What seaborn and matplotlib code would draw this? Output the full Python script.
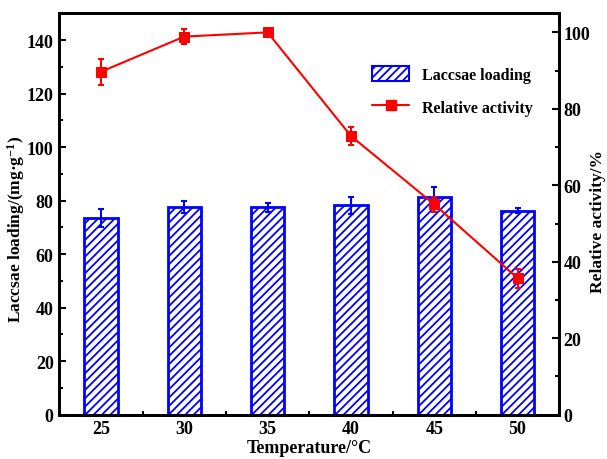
import matplotlib
matplotlib.use("Agg")
import matplotlib.pyplot as plt
import seaborn as sns
import pandas as pd
from matplotlib.patches import Patch
from matplotlib.lines import Line2D
from matplotlib.ticker import MultipleLocator

# data
temperature = [25, 30, 35, 40, 45, 50]
loading = [73.6, 77.6, 77.5, 78.3, 81.2, 76.3]
loading_err = [3.4, 2.1, 1.7, 3.2, 3.8, 0.8]
activity = [89.7, 98.9, 100.0, 72.9, 55.0, 35.7]
activity_err = [3.4, 2.0, 0.6, 2.4, 2.0, 2.5]

sns.set_style("ticks", {"axes.edgecolor": "black", "text.color": "black",
                        "axes.labelcolor": "black", "xtick.color": "black",
                        "ytick.color": "black"})
plt.rcParams["font.family"] = ["Liberation Serif", "DejaVu Serif"]
plt.rcParams["font.weight"] = "bold"
plt.rcParams["mathtext.fontset"] = "custom"
plt.rcParams["mathtext.rm"] = "Liberation Serif:bold"
plt.rcParams["mathtext.bf"] = "Liberation Serif:bold"
plt.rcParams["mathtext.default"] = "bf"
plt.rcParams["hatch.linewidth"] = 1.3
plt.rcParams["hatch.color"] = "blue"

df = pd.DataFrame({"T": temperature, "L": loading, "A": activity})

fig = plt.figure(figsize=(6.07, 4.6), dpi=100)
ax = fig.add_axes([0.0977, 0.0963, 0.8237, 0.8727])

sns.barplot(data=df, x="T", y="L", native_scale=True, width=0.4,
            color="white", edgecolor="blue", linewidth=2, ax=ax, zorder=2)
for p in ax.patches:
    p.set_hatch("////")
    p.set_edgecolor("blue")
ax.errorbar(temperature, loading, yerr=loading_err, fmt="none", ecolor="blue",
            elinewidth=1.5, capsize=2.5, capthick=1.5, zorder=3)

ax.set_xlim(22.5, 52.5)
ax.set_ylim(0, 150)
ax.set_xticks(temperature)
ax.xaxis.set_minor_locator(MultipleLocator(2.5))
ax.set_yticks(range(0, 141, 20))
ax.yaxis.set_minor_locator(MultipleLocator(10))
ax.set_xlabel("Temperature/°C", fontsize=13, fontweight="bold", labelpad=1)
ax.set_ylabel("Laccsae loading/(mg·g$^{-1}$)", fontsize=12.5, fontweight="bold",
              va="center")
ax.yaxis.set_label_coords(-0.087, 0.463)

ax2 = ax.twinx()
sns.lineplot(data=df, x="T", y="A", color="red", marker="s", markersize=7,
             markeredgecolor="red", linewidth=1.5, ax=ax2, zorder=4)
ax2.errorbar(temperature, activity, yerr=activity_err, fmt="none", ecolor="red",
             elinewidth=1.5, capsize=2.5, capthick=1.5, zorder=4)
ax2.set_ylim(0, 105)
ax2.set_yticks(range(0, 101, 20))
ax2.yaxis.set_minor_locator(MultipleLocator(10))
ax2.set_ylabel("Relative activity/%", fontsize=12.5, fontweight="bold",
               va="center", rotation=90)
ax2.yaxis.set_label_coords(1.077, 0.483)
ax2.set_xlim(22.5, 52.5)

for a in (ax, ax2):
    for s in a.spines.values():
        s.set_linewidth(2)
        s.set_color("black")
        s.set_visible(True)
    a.tick_params(which="major", direction="in", length=5, width=1.5, labelsize=13,
                  pad=4, colors="black")
    a.tick_params(which="minor", direction="in", length=3, width=1.5, colors="black")
ax.tick_params(axis="y", which="both", right=False)
ax.tick_params(axis="x", which="both", top=False)
ax2.tick_params(axis="x", which="both", top=False, bottom=False)
ax2.tick_params(axis="y", pad=3)

handles = [Patch(facecolor="white", edgecolor="blue", hatch="////", linewidth=1.5),
           Line2D([], [], color="red", marker="s", markersize=7, linewidth=1.5)]
ax2.legend(handles, ["Laccsae loading", "Relative activity"], loc="upper right",
           bbox_to_anchor=(0.975, 0.905), frameon=False, fontsize=11.5,
           labelspacing=1.0, handlelength=2.3, handleheight=1.1, labelcolor="black")

fig.savefig("out.png", dpi=100)
